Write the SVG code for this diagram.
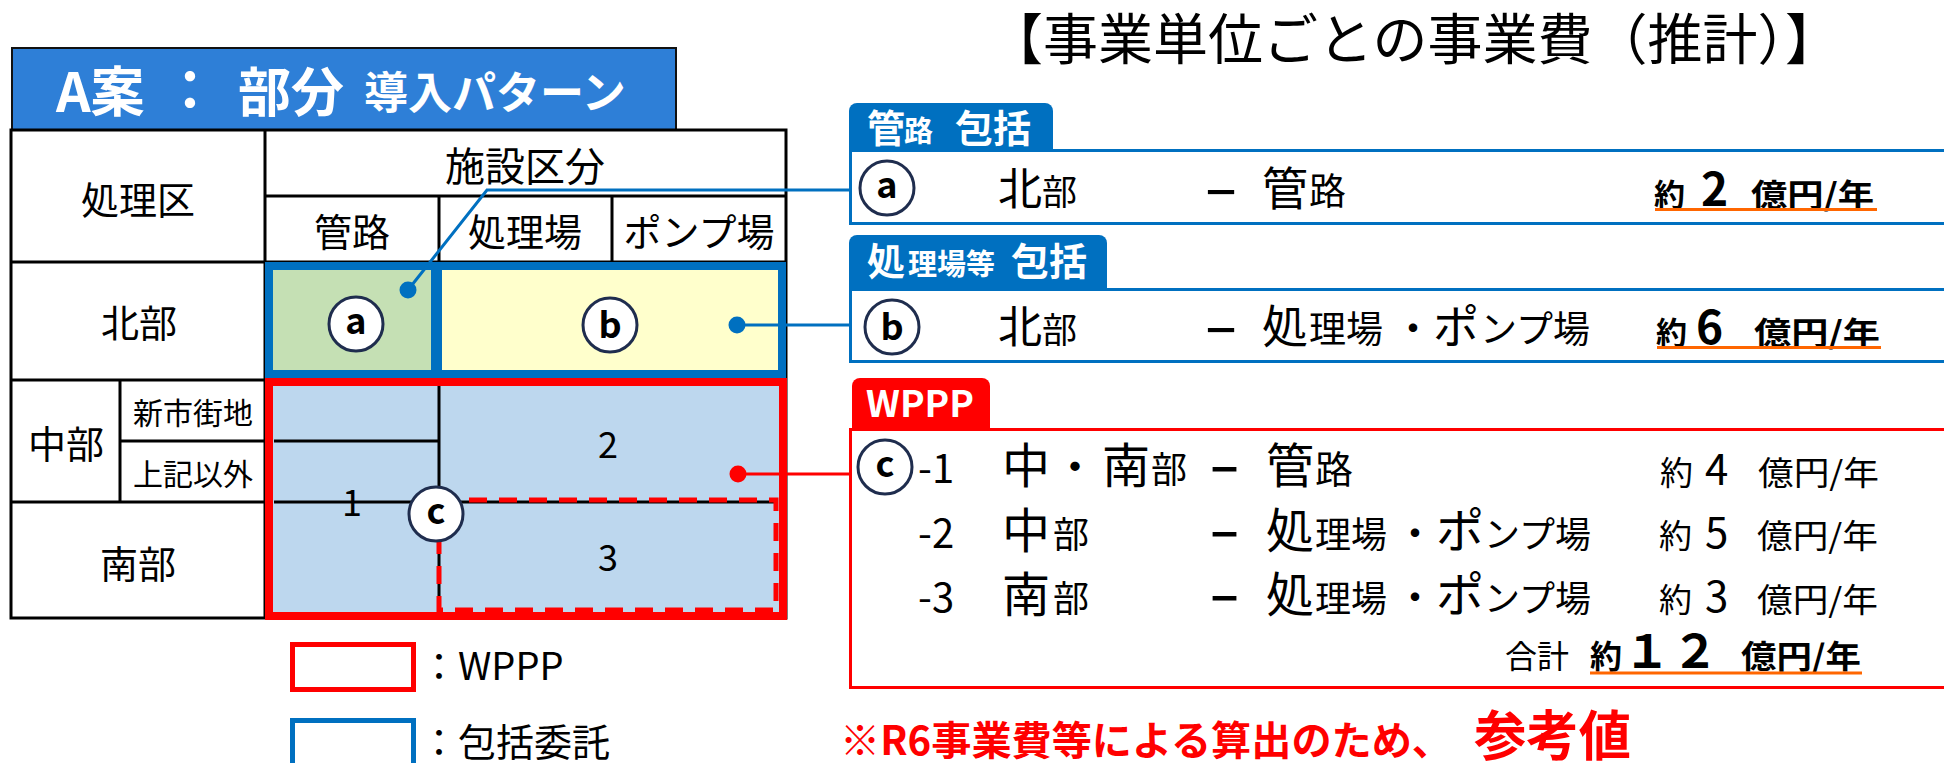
<svg xmlns="http://www.w3.org/2000/svg" width="1944" height="763" viewBox="0 0 1944 763">
<style>
text{font-family:"Noto Sans CJK JP","Noto Sans",sans-serif;fill:#000}
.c{text-anchor:middle;dominant-baseline:central}
.w{fill:#fff;font-weight:bold}
.b{font-weight:bold}
.tl{stroke:#000;stroke-width:3;fill:none}
.circ{fill:#fff;stroke:#1F2D4E;stroke-width:3}
.lt{font-weight:bold;font-size:36px;text-anchor:middle}
.r{fill:#FF0000;font-weight:bold}
</style>
<rect width="1944" height="763" fill="#fff"/>

<g id="title-box">
<rect x="12" y="48" width="664" height="82" fill="#2E7FD7" stroke="#111" stroke-width="2"/>
<text class="w" x="56" y="112" font-size="54">A案</text>
<text class="w" x="163" y="110" font-size="54">：</text>
<text class="w" x="238" y="112" font-size="53">部分</text>
<text class="w" x="364" y="109" font-size="44">導入パターン</text>
</g>

<g id="table">
<rect x="269" y="266" width="168" height="108" fill="#C5E0B4"/>
<rect x="437" y="266" width="345" height="108" fill="#FFFFCC"/>
<rect x="269" y="382" width="514" height="234" fill="#BDD7EE"/>
<rect x="11" y="130" width="775" height="488" class="tl"/>
<path class="tl" d="M265 130V618M265 196H786M439 196V262M612 196V262M11 262H786M11 380H786M120 380V502M120 441H265M11 502H265"/>
<text class="c" x="138" y="197" font-size="38">処理区</text>
<text class="c" x="525" y="164" font-size="40">施設区分</text>
<text class="c" x="352" y="229" font-size="38">管路</text>
<text class="c" x="525" y="229" font-size="38">処理場</text>
<text class="c" x="699" y="229" font-size="38">ポンプ場</text>
<text class="c" x="139" y="320" font-size="38">北部</text>
<text class="c" x="66" y="441" font-size="38">中部</text>
<text class="c" x="193" y="411" font-size="30">新市街地</text>
<text class="c" x="193" y="472" font-size="30">上記以外</text>
<text class="c" x="138" y="561" font-size="38">南部</text>
</g>

<g id="blue-block">
<rect x="269" y="266" width="513" height="108" fill="none" stroke="#0070C0" stroke-width="8"/>
<line x1="436.5" y1="266" x2="436.5" y2="374" stroke="#0070C0" stroke-width="11"/>
<circle class="circ" cx="356" cy="324" r="27"/>
<text class="lt" x="356" y="334">a</text>
<circle class="circ" cx="610" cy="325" r="27"/>
<text class="lt" x="610" y="338">b</text>
</g>

<g id="red-block">
<path class="tl" d="M439 386V612M274 441H439M274 502H778"/>
<rect x="439" y="500" width="337" height="110" fill="none" stroke="#FF0000" stroke-width="5" stroke-dasharray="18 12"/>
<rect x="269" y="382" width="514" height="234" fill="none" stroke="#FF0000" stroke-width="8"/>
<text class="c" x="352" y="500" font-size="36">1</text>
<text class="c" x="608" y="442" font-size="36">2</text>
<text class="c" x="608" y="555" font-size="36">3</text>
<circle class="circ" cx="436" cy="514" r="27"/>
<text class="lt" x="436" y="524">c</text>
</g>

<g id="connectors">
<polyline points="408,290 487,190 851,190" fill="none" stroke="#0070C0" stroke-width="3"/>
<circle cx="408" cy="290" r="8.5" fill="#0070C0"/>
<line x1="737" y1="325" x2="851" y2="325" stroke="#0070C0" stroke-width="3"/>
<circle cx="737" cy="325" r="8.5" fill="#0070C0"/>
<line x1="738" y1="474" x2="851" y2="474" stroke="#FF0000" stroke-width="3"/>
<circle cx="738" cy="474" r="8.5" fill="#FF0000"/>
</g>

<g id="legend">
<rect x="292.5" y="644.5" width="121" height="45" fill="#fff" stroke="#FF0000" stroke-width="5"/>
<text x="420" y="680" font-size="38">：WPPP</text>
<rect x="292.5" y="720.5" width="121" height="60" fill="#fff" stroke="#0070C0" stroke-width="5"/>
<text x="420" y="756" font-size="38">：包括委託</text>
</g>

<g id="heading">
<text x="1414" y="59" font-size="55" text-anchor="middle">【事業単位ごとの事業費（推計）】</text>
</g>

<g id="box-a">
<rect x="849" y="103" width="204" height="60" rx="8" fill="#0070C0"/>
<rect x="850.5" y="150.5" width="1200" height="73" fill="#fff" stroke="#0070C0" stroke-width="3"/>
<text class="w" y="142"><tspan x="867" font-size="38">管</tspan><tspan x="904" font-size="29">路</tspan><tspan x="955" font-size="38">包括</tspan></text>
<circle class="circ" cx="887" cy="188" r="27"/>
<text class="lt" x="887" y="198">a</text>
<text y="205"><tspan x="998" font-size="44">北</tspan><tspan x="1042" font-size="35">部</tspan></text>
<text x="1205" y="205" font-size="44" class="b" textLength="32" lengthAdjust="spacingAndGlyphs">–</text>
<text y="205"><tspan x="1262" font-size="46">管</tspan><tspan x="1309" font-size="37">路</tspan></text>
<text class="b" y="206"><tspan x="1654" font-size="31">約</tspan><tspan x="1701" font-size="46">2</tspan></text>
<text class="b" x="1751" y="206" font-size="31" textLength="123" lengthAdjust="spacingAndGlyphs">億円/年</text>
<line x1="1655" y1="209.5" x2="1877" y2="209.5" stroke="#FF6600" stroke-width="3"/>
</g>

<g id="box-b">
<rect x="849" y="235" width="258" height="65" rx="8" fill="#0070C0"/>
<rect x="850.5" y="289.5" width="1200" height="72" fill="#fff" stroke="#0070C0" stroke-width="3"/>
<text class="w" y="275"><tspan x="867" font-size="38">処</tspan><tspan x="908" font-size="29">理場等</tspan><tspan x="1011" font-size="38">包括</tspan></text>
<circle class="circ" cx="892" cy="327" r="27"/>
<text class="lt" x="892" y="340">b</text>
<text y="343"><tspan x="998" font-size="44">北</tspan><tspan x="1042" font-size="35">部</tspan></text>
<text x="1205" y="343" font-size="44" class="b" textLength="32" lengthAdjust="spacingAndGlyphs">–</text>
<text y="343"><tspan x="1262" font-size="46">処</tspan><tspan x="1309" font-size="37">理場</tspan><tspan x="1393" font-size="40">・</tspan><tspan x="1433" font-size="46">ポ</tspan><tspan x="1480" font-size="37">ンプ場</tspan></text>
<text class="b" y="344"><tspan x="1656" font-size="31">約</tspan><tspan x="1696" font-size="46">6</tspan></text>
<text class="b" x="1754" y="344" font-size="31" textLength="126" lengthAdjust="spacingAndGlyphs">億円/年</text>
<line x1="1657" y1="347.5" x2="1881" y2="347.5" stroke="#FF6600" stroke-width="3"/>
</g>

<g id="box-c">
<rect x="852" y="378" width="138" height="64" rx="8" fill="#FF0000"/>
<rect x="850.5" y="429.5" width="1200" height="258" fill="#fff" stroke="#FF0000" stroke-width="3"/>
<text class="w" x="866" y="417" font-size="36" textLength="108" lengthAdjust="spacingAndGlyphs">WPPP</text>
<circle class="circ" cx="885" cy="467" r="27"/>
<text class="lt" x="885" y="477">c</text>
<text y="483" font-size="40" x="918">-1</text>
<text y="483"><tspan x="1002" font-size="48">中</tspan><tspan x="1053" font-size="44">・</tspan><tspan x="1102" font-size="48">南</tspan><tspan x="1151" font-size="36">部</tspan></text>
<text x="1210" y="483" font-size="48" class="b" textLength="29" lengthAdjust="spacingAndGlyphs">–</text>
<text y="483"><tspan x="1266" font-size="48">管</tspan><tspan x="1315" font-size="38">路</tspan></text>
<text y="485"><tspan x="1660" font-size="33">約</tspan><tspan x="1705" font-size="42">4</tspan></text>
<text x="1758" y="485" font-size="33" textLength="121" lengthAdjust="spacingAndGlyphs">億円/年</text>

<text y="548" font-size="40" x="918">-2</text>
<text y="548"><tspan x="1002" font-size="48">中</tspan><tspan x="1053" font-size="36">部</tspan></text>
<text x="1210" y="548" font-size="48" class="b" textLength="29" lengthAdjust="spacingAndGlyphs">–</text>
<text y="548"><tspan x="1266" font-size="48">処</tspan><tspan x="1315" font-size="36">理場</tspan><tspan x="1395" font-size="40">・</tspan><tspan x="1436" font-size="48">ポ</tspan><tspan x="1484" font-size="36">ンプ場</tspan></text>
<text y="548"><tspan x="1659" font-size="33">約</tspan><tspan x="1705" font-size="42">5</tspan></text>
<text x="1757" y="548" font-size="33" textLength="121" lengthAdjust="spacingAndGlyphs">億円/年</text>

<text y="612" font-size="40" x="918">-3</text>
<text y="612"><tspan x="1002" font-size="48">南</tspan><tspan x="1053" font-size="36">部</tspan></text>
<text x="1210" y="612" font-size="48" class="b" textLength="29" lengthAdjust="spacingAndGlyphs">–</text>
<text y="612"><tspan x="1266" font-size="48">処</tspan><tspan x="1315" font-size="36">理場</tspan><tspan x="1395" font-size="40">・</tspan><tspan x="1436" font-size="48">ポ</tspan><tspan x="1484" font-size="36">ンプ場</tspan></text>
<text y="612"><tspan x="1659" font-size="33">約</tspan><tspan x="1705" font-size="42">3</tspan></text>
<text x="1757" y="612" font-size="33" textLength="121" lengthAdjust="spacingAndGlyphs">億円/年</text>

<text x="1505" y="668" font-size="32">合計</text>
<text class="b" y="668"><tspan x="1590" font-size="32">約</tspan><tspan x="1624" font-size="46">１</tspan><tspan x="1672" font-size="46">２</tspan></text>
<text class="b" x="1741" y="668" font-size="32" textLength="120" lengthAdjust="spacingAndGlyphs">億円/年</text>
<line x1="1590" y1="673" x2="1862" y2="673" stroke="#FF6600" stroke-width="3"/>
</g>

<g id="note">
<text class="r" x="840" y="755" font-size="40" textLength="612" lengthAdjust="spacingAndGlyphs">※R6事業費等による算出のため、</text>
<text class="r" x="1474" y="756" font-size="54" textLength="157" lengthAdjust="spacingAndGlyphs">参考値</text>
</g>
</svg>
